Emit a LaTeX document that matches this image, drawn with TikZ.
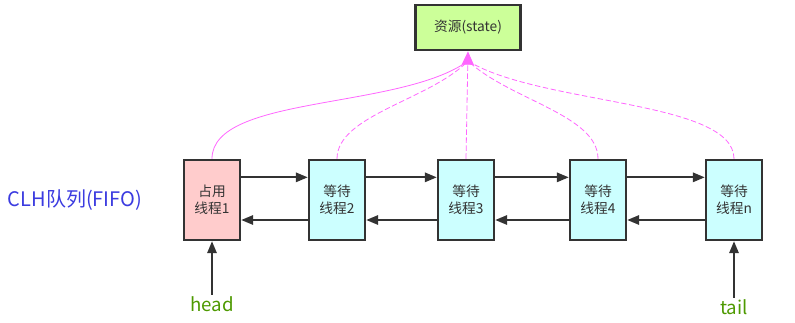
\documentclass[tikz,border=0pt]{standalone}
\usepackage{fontspec}
\setmainfont{Noto Sans CJK SC}
\usepackage{tikz}
\usetikzlibrary{arrows.meta,positioning}
\definecolor{LockPink}{HTML}{FFCCCC}
\definecolor{WaitCyan}{HTML}{CCFFFF}
\definecolor{StateGreen}{HTML}{CCFF99}
\definecolor{EdgeGray}{HTML}{333333}
\definecolor{CasPink}{HTML}{FF66FF}
\definecolor{QueueBlue}{HTML}{3B3BE0}
\definecolor{PtrGreen}{HTML}{4D9900}

\begin{document}
\begin{tikzpicture}[
  x=0.75pt, y=0.75pt,
  thread/.style={draw=EdgeGray, line width=1.8pt, align=center, fill=WaitCyan, text=EdgeGray, minimum width=42pt, minimum height=60pt, inner sep=1pt, font=\fontsize{10.3}{12.5}\selectfont},
  owner/.style={thread, fill=LockPink},
  res/.style={draw=EdgeGray, line width=1.8pt, fill=StateGreen, text=EdgeGray, minimum width=79pt, minimum height=34pt, font=\fontsize{10.3}{12.5}\selectfont},
  link/.style={-{Triangle[length=9pt,width=7pt]}, line width=1.6pt, EdgeGray},
  cas/.style={line width=0.6pt, CasPink},
  wait/.style={cas, dash pattern=on 4pt off 2pt},
  ptr/.style={text=PtrGreen, font=\fontsize{14}{16}\selectfont, inner sep=1pt}
]
\useasboundingbox (0,0) rectangle (795,322);
\node[res] (state) at (468,294.5) {资源(state)};
\node[owner] (t1) at (212,122) {占用\\线程1};
\node[thread] (t2) at (337,122) {等待\\线程2};
\node[thread] (t3) at (466,122) {等待\\线程3};
\node[thread] (t4) at (598,122) {等待\\线程4};
\node[thread] (tn) at (734,122) {等待\\线程n};
\node[text=QueueBlue, font=\fontsize{15}{18}\selectfont] (clh) at (75,122) {CLH队列(FIFO)};
\node[ptr] (head) at (212,18) {head};
\node[ptr] (tail) at (734,15) {tail};
\coordinate (hub) at (468,261);
% next / prev links
\draw[link] ([yshift=17pt]t1.east) -- ([yshift=17pt]t2.west);
\draw[link] ([yshift=17pt]t2.east) -- ([yshift=17pt]t3.west);
\draw[link] ([yshift=17pt]t3.east) -- ([yshift=17pt]t4.west);
\draw[link] ([yshift=17pt]t4.east) -- ([yshift=17pt]tn.west);
\draw[link] ([yshift=-15pt]t2.west) -- ([yshift=-15pt]t1.east);
\draw[link] ([yshift=-15pt]t3.west) -- ([yshift=-15pt]t2.east);
\draw[link] ([yshift=-15pt]t4.west) -- ([yshift=-15pt]t3.east);
\draw[link] ([yshift=-15pt]tn.west) -- ([yshift=-15pt]t4.east);
% pointers
\draw[link] (head) -- (t1);
\draw[link] (tail) -- (tn);
% threads reaching for the state
\draw[cas] (t1.north) .. controls (212,227) and (400,212) .. (hub);
\draw[wait] (t2.north) .. controls (337,207) and (430,222) .. (hub);
\draw[wait] (t4.north) .. controls (598,207) and (510,222) .. (hub);
\draw[wait] (tn.north) .. controls (734,222) and (540,217) .. (hub);
\draw[wait, -{Triangle[length=10pt,width=9pt]}] (t3.north) -- (state.south);
\end{tikzpicture}
\end{document}
